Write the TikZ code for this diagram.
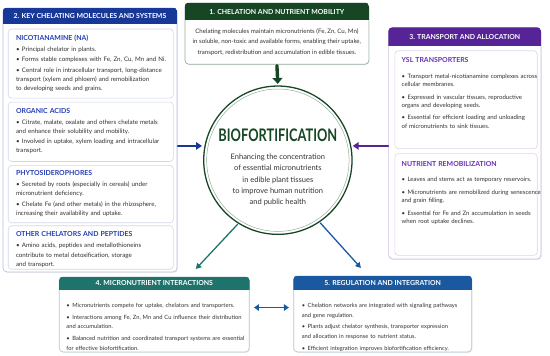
\documentclass[tikz,border=0pt]{standalone}
\usepackage{fontspec}
\setmainfont{Lato}
\newfontfamily\bigfont[FakeStretch=0.74]{Lato}
\usetikzlibrary{arrows.meta,shadows}

\definecolor{keyblue}{RGB}{24,56,152}
\definecolor{keyttl}{RGB}{36,62,180}
\definecolor{mobgreen}{RGB}{22,70,36}
\definecolor{trpurple}{RGB}{86,36,150}
\definecolor{trttl}{RGB}{104,48,178}
\definecolor{intteal}{RGB}{30,116,108}
\definecolor{regblue}{RGB}{26,88,160}
\definecolor{bodytxt}{RGB}{50,50,50}

% bullet line with hanging indent
\newcommand\bpt[1]{\par\hangindent=6pt\hangafter=1\noindent\hbox to 6pt{\textbullet\hss}#1}
% coloured sub-box title
\newcommand\ttl[3]{{\fontsize{7}{8}\selectfont\bfseries\color{#1}#2}\par\vspace{#3}}
% coloured header strip on top of a panel node
\newcommand\panelhead[4]{%
  \begin{scope}
    \clip[rounded corners=4pt] (#1.south west) rectangle (#1.north east);
    \fill[#2] (#1.north west) rectangle ([yshift=-#3pt]#1.north east);
  \end{scope}
  \node[hdrtxt] (#1h) at ([yshift=-#3pt/2]#1.north) {#4};}

\begin{document}
\begin{tikzpicture}[x=1pt,y=-1pt,line cap=round,
  panel/.style={draw=#1,line width=0.7pt,fill=white,rounded corners=4pt,inner sep=0pt,
    drop shadow={shadow xshift=0.8pt,shadow yshift=-0.8pt,opacity=0.15}},
  subbox/.style={draw=#1,line width=0.6pt,fill=white,rounded corners=3.5pt,inner sep=0pt,anchor=north west},
  hdrtxt/.style={text=white,font=\fontsize{7}{8}\selectfont\bfseries,inner sep=0pt},
  body/.style={text=bodytxt,align=left,anchor=north west,inner sep=0pt},
  kbody/.style={body,text width=175pt,font=\fontsize{6.25}{9.2}\selectfont,
    execute at begin node={\setlength\parskip{1.4pt}}},
  tbody/.style={body,text width=150pt,font=\fontsize{6.1}{8.8}\selectfont,
    execute at begin node={\setlength\parskip{3.6pt}}},
  lbody/.style={body,text width=200pt,font=\fontsize{5.85}{9.4}\selectfont,
    execute at begin node={\setlength\parskip{2.6pt}}},
  sidearr/.style={line width=1.8pt,-{Triangle[length=6pt,width=7.5pt]}},
  toparr/.style={mobgreen,line width=3.4pt,-{Triangle[length=6pt,width=10pt]}},
  diagarr/.style={line width=1.3pt,-{Triangle[length=5.5pt,width=6pt]}},
  dblarr/.style={regblue,line width=1.8pt,{Triangle[length=5pt,width=6.5pt]}-{Triangle[length=5pt,width=6.5pt]}}]
\fill[white] (0,0) rectangle (550,359);

% 2. key chelating molecules
\node[panel=keyblue!30,minimum width=176pt,minimum height=267pt] (key) at (91,141.5) {};
\panelhead{key}{keyblue}{17}{2. KEY CHELATING MOLECULES AND SYSTEMS}
\node[subbox=keyblue!20,minimum width=167pt,minimum height=70pt] (na) at (8,29) {};
\node[kbody] (natx) at ([shift={(8pt,-6pt)}]na.north west) {\ttl{keyttl}{NICOTIANAMINE (NA)}{0.8pt}%
  \bpt{Principal chelator in plants.}%
  \bpt{Forms stable complexes with Fe, Zn, Cu, Mn and Ni.}%
  \bpt{Central role in intracellular transport, long-distance\\transport (xylem and phloem) and remobilization\\to developing seeds and grains.}};
\node[subbox=keyblue!20,minimum width=167pt,minimum height=60pt] (oa) at (8,103) {};
\node[kbody] (oatx) at ([shift={(8pt,-6pt)}]oa.north west) {\ttl{keyttl}{ORGANIC ACIDS}{0.8pt}%
  \bpt{Citrate, malate, oxalate and others chelate metals\\and enhance their solubility and mobility.}%
  \bpt{Involved in uptake, xylem loading and intracellular\\transport.}};
\node[subbox=keyblue!20,minimum width=167pt,minimum height=58pt] (ps) at (8,167) {};
\node[kbody] (pstx) at ([shift={(8pt,-5pt)}]ps.north west) {\ttl{keyttl}{PHYTOSIDEROPHORES}{0.8pt}%
  \bpt{Secreted by roots (especially in cereals) under\\micronutrient deficiency.}%
  \bpt{Chelate Fe (and other metals) in the rhizosphere,\\increasing their availability and uptake.}};
\node[subbox=keyblue!20,minimum width=167pt,minimum height=44pt] (oc) at (8,228) {};
\node[kbody] (octx) at ([shift={(8pt,-6pt)}]oc.north west) {\ttl{keyttl}{OTHER CHELATORS AND PEPTIDES}{0.8pt}%
  \bpt{Amino acids, peptides and metallothioneins\\contribute to metal detoxification, storage\\and transport.}};

% 1. chelation and mobility
\node[panel=mobgreen!45,minimum width=186pt,minimum height=62pt] (mob) at (280,34) {};
\panelhead{mob}{mobgreen}{18}{1. CHELATION AND NUTRIENT MOBILITY}
\node[text=bodytxt,align=center,inner sep=0pt,font=\fontsize{6.2}{11}\selectfont] (mobtx) at (280,42.5)
  {Chelating molecules maintain micronutrients (Fe, Zn, Cu, Mn)\\in soluble, non-toxic and available forms, enabling their uptake,\\transport, redistribution and accumulation in edible tissues.};

% 3. transport and allocation
\node[panel=trpurple!30,minimum width=154pt,minimum height=234pt] (tr) at (470,145) {};
\panelhead{tr}{trpurple}{19}{3. TRANSPORT AND ALLOCATION}
\node[subbox=trpurple!20,minimum width=144pt,minimum height=99pt] (ysl) at (399,51) {};
\node[tbody] (ysltx) at ([shift={(7pt,-7.2pt)}]ysl.north west) {\ttl{trttl}{YSL TRANSPORTERS}{3pt}%
  \bpt{Transport metal-nicotianamine complexes across\\cellular membranes.}%
  \bpt{Expressed in vascular tissues, reproductive\\organs and developing seeds.}%
  \bpt{Essential for efficient loading and unloading\\of micronutrients to sink tissues.}};
\node[subbox=trpurple!20,minimum width=144pt,minimum height=103pt] (nr) at (399,155) {};
\node[tbody] (nrtx) at ([shift={(7pt,-7.8pt)}]nr.north west) {\ttl{trttl}{NUTRIENT REMOBILIZATION}{3.4pt}%
  \bpt{Leaves and stems act as temporary reservoirs.}%
  \bpt{Micronutrients are remobilized during senescence\\and grain filling.}%
  \bpt{Essential for Fe and Zn accumulation in seeds\\when root uptake declines.}};

% 4. micronutrient interactions
\node[panel=intteal!35,minimum width=192pt,minimum height=76pt] (int) at (156,318) {};
\panelhead{int}{intteal}{14}{4. MICRONUTRIENT INTERACTIONS}
\node[lbody] (inttx) at (67,299) {%
  \bpt{Micronutrients compete for uptake, chelators and transporters.}%
  \bpt{Interactions among Fe, Zn, Mn and Cu influence their distribution\\and accumulation.}%
  \bpt{Balanced nutrition and coordinated transport systems are essential\\for effective biofortification.}};

% 5. regulation and integration
\node[panel=regblue!35,minimum width=180pt,minimum height=77pt] (reg) at (387,317.5) {};
\panelhead{reg}{regblue}{15}{5. REGULATION AND INTEGRATION}
\node[lbody,font=\fontsize{5.8}{9.4}\selectfont] (regtx) at (305,299) {%
  \bpt{Chelation networks are integrated with signaling pathways\\and gene regulation.}%
  \bpt{Plants adjust chelator synthesis, transporter expression\\and allocation in response to nutrient status.}%
  \bpt{Efficient integration improves biofortification efficiency.}};

% central circle
\node[circle,draw=mobgreen,line width=1.3pt,fill=white,minimum size=150pt,inner sep=0pt] (bio) at (281,162) {};
\draw[mobgreen!45,line width=0.5pt] (bio.center) circle (72pt);
\node[text=mobgreen,inner sep=0pt,font=\bigfont\fontsize{17.5}{18}\selectfont\bfseries] (biot) at (281,137) {BIOFORTIFICATION};
\node[text=bodytxt,align=center,inner sep=0pt,font=\fontsize{7.6}{11.5}\selectfont] (biotx) at (281,182)
  {Enhancing the concentration\\of essential micronutrients\\in edible plant tissues\\to improve human nutrition\\and public health};

% connectors
\coordinate (intin) at (198,272);
\coordinate (regin) at (365,271);
\draw[toparr,shorten <=1pt,shorten >=1.5pt] (mob.south) -- (bio.north);
\draw[sidearr,keyblue,shorten <=0.5pt,shorten >=2.5pt] (key.east |- bio.169) -- (bio.169);
\draw[sidearr,trpurple,shorten >=1.5pt] (tr.west |- bio.11) -- (bio.11);
\draw[diagarr,intteal,shorten <=1pt] (bio.238) -- (intin);
\draw[diagarr,regblue,shorten <=1pt] (bio.304) -- (regin);
\draw[dblarr,shorten <=4.5pt,shorten >=4.5pt] ([yshift=7pt]int.east) -- ([yshift=7pt]int.east -| reg.west);
\end{tikzpicture}
\end{document}
